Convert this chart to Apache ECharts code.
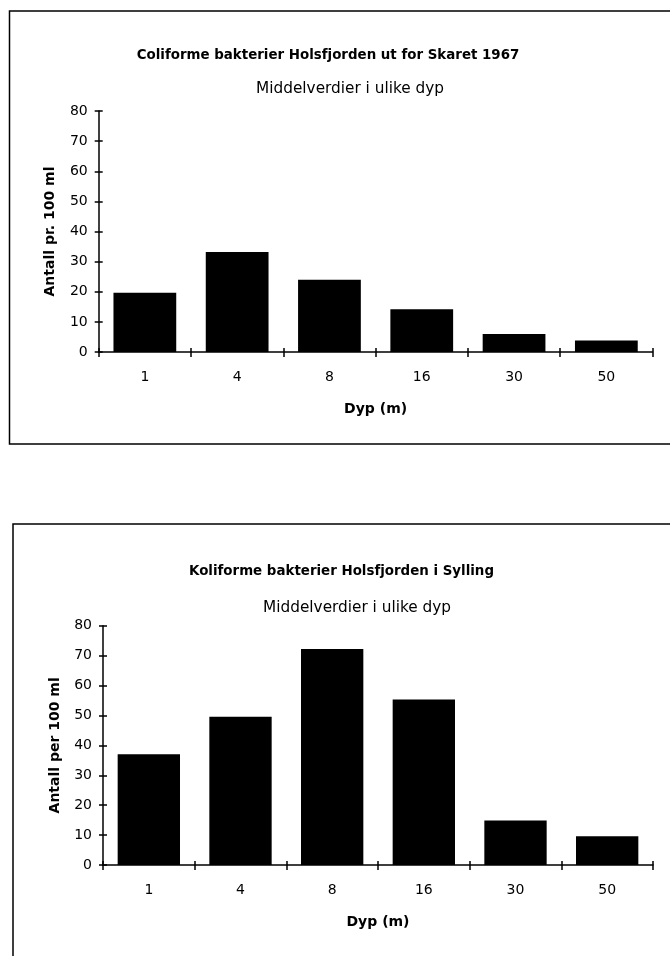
<!DOCTYPE html>
<html>
<head>
<meta charset="utf-8">
<script src="https://cdn.jsdelivr.net/npm/echarts@6/dist/echarts.min.js"></script>
<style>
  html, body { margin: 0; padding: 0; background: #fff; }
  #chart { width: 670px; height: 956px; }
</style>
</head>
<body>
<div id="chart"></div>
<script>
const depthCategories = ['1', '4', '8', '16', '30', '50'];
const skaretValues = [19.7, 33.2, 24, 14.2, 6, 3.8];
const syllingValues = [37, 49.6, 72.2, 55.3, 14.9, 9.6];
const yTicks = [0, 10, 20, 30, 40, 50, 60, 70, 80];

const titleTop = 'Coliforme bakterier Holsfjorden ut for Skaret 1967';
const titleBottom = 'Koliforme bakterier Holsfjorden i Sylling';
const subTitle = 'Middelverdier i ulike dyp';
const yNameTop = 'Antall pr. 100 ml';
const yNameBottom = 'Antall per 100 ml';
const xName = 'Dyp (m)';

const FONT = 'DejaVu Sans';
const chart = echarts.init(document.getElementById('chart'), null, { renderer: 'canvas' });

function yAxes(gridIndex, name) {
  const base = {
    type: 'value', gridIndex: gridIndex, min: yTicks[0], max: yTicks[yTicks.length - 1],
    interval: 10, splitLine: { show: false }, position: 'left'
  };
  return [
    Object.assign({}, base, {
      name: name, nameLocation: 'middle', nameGap: 41,
      nameTextStyle: { fontFamily: FONT, fontWeight: 'bold', fontSize: 14, color: '#000' },
      axisLine: { show: true, lineStyle: { color: '#000', width: 1.5 } },
      axisTick: { show: true, inside: false, length: 4, lineStyle: { color: '#000', width: 1.5 } },
      axisLabel: { fontFamily: FONT, fontSize: 14, color: '#000', margin: 11 }
    }),
    Object.assign({}, base, {
      axisLine: { show: false },
      axisTick: { show: true, inside: true, length: 4, lineStyle: { color: '#000', width: 1.5 } },
      axisLabel: { show: false }
    })
  ];
}

function xAxes(gridIndex) {
  const base = { type: 'category', gridIndex: gridIndex, data: depthCategories, position: 'bottom' };
  return [
    Object.assign({}, base, {
      name: xName, nameLocation: 'middle', nameGap: 50,
      nameTextStyle: { fontFamily: FONT, fontWeight: 'bold', fontSize: 14, color: '#000' },
      axisLine: { show: true, lineStyle: { color: '#000', width: 1.5 } },
      axisTick: { show: true, inside: false, length: 5, lineStyle: { color: '#000', width: 1.5 } },
      axisLabel: { fontFamily: FONT, fontSize: 14, color: '#000', margin: 18 }
    }),
    Object.assign({}, base, {
      axisLine: { show: false },
      axisTick: { show: true, inside: true, length: 4, lineStyle: { color: '#000', width: 1.5 } },
      axisLabel: { show: false }
    })
  ];
}

const option = {
  backgroundColor: '#fff',
  animation: false,
  grid: [
    { left: 98.7, top: 111, right: 17.5, height: 241 },
    { left: 103, top: 625.7, right: 17, height: 239.3 }
  ],
  xAxis: [].concat(xAxes(0), xAxes(1)),
  yAxis: [].concat(yAxes(0, yNameTop), yAxes(1, yNameBottom)),
  series: [
    { type: 'bar', xAxisIndex: 0, yAxisIndex: 0, data: skaretValues, barCategoryGap: '32%',
      itemStyle: { color: '#000' } },
    { type: 'bar', xAxisIndex: 2, yAxisIndex: 2, data: syllingValues, barCategoryGap: '32%',
      itemStyle: { color: '#000' } }
  ],
  graphic: [
    { type: 'rect', shape: { x: 9.5, y: 11, width: 700, height: 433 },
      style: { fill: 'none', stroke: '#000', lineWidth: 1.5 }, silent: true },
    { type: 'rect', shape: { x: 13, y: 524, width: 700, height: 500 },
      style: { fill: 'none', stroke: '#000', lineWidth: 1.5 }, silent: true },
    { type: 'text', x: 328, y: 56, style: { text: titleTop, font: 'bold 13.4px "' + FONT + '"', fill: '#000', textAlign: 'center', textVerticalAlign: 'middle' } },
    { type: 'text', x: 350, y: 89, style: { text: subTitle, font: '15.3px "' + FONT + '"', fill: '#000', textAlign: 'center', textVerticalAlign: 'middle' } },
    { type: 'text', x: 341.5, y: 572, style: { text: titleBottom, font: 'bold 13.4px "' + FONT + '"', fill: '#000', textAlign: 'center', textVerticalAlign: 'middle' } },
    { type: 'text', x: 357, y: 608, style: { text: subTitle, font: '15.3px "' + FONT + '"', fill: '#000', textAlign: 'center', textVerticalAlign: 'middle' } }
  ]
};
chart.setOption(option);
</script>
</body>
</html>
